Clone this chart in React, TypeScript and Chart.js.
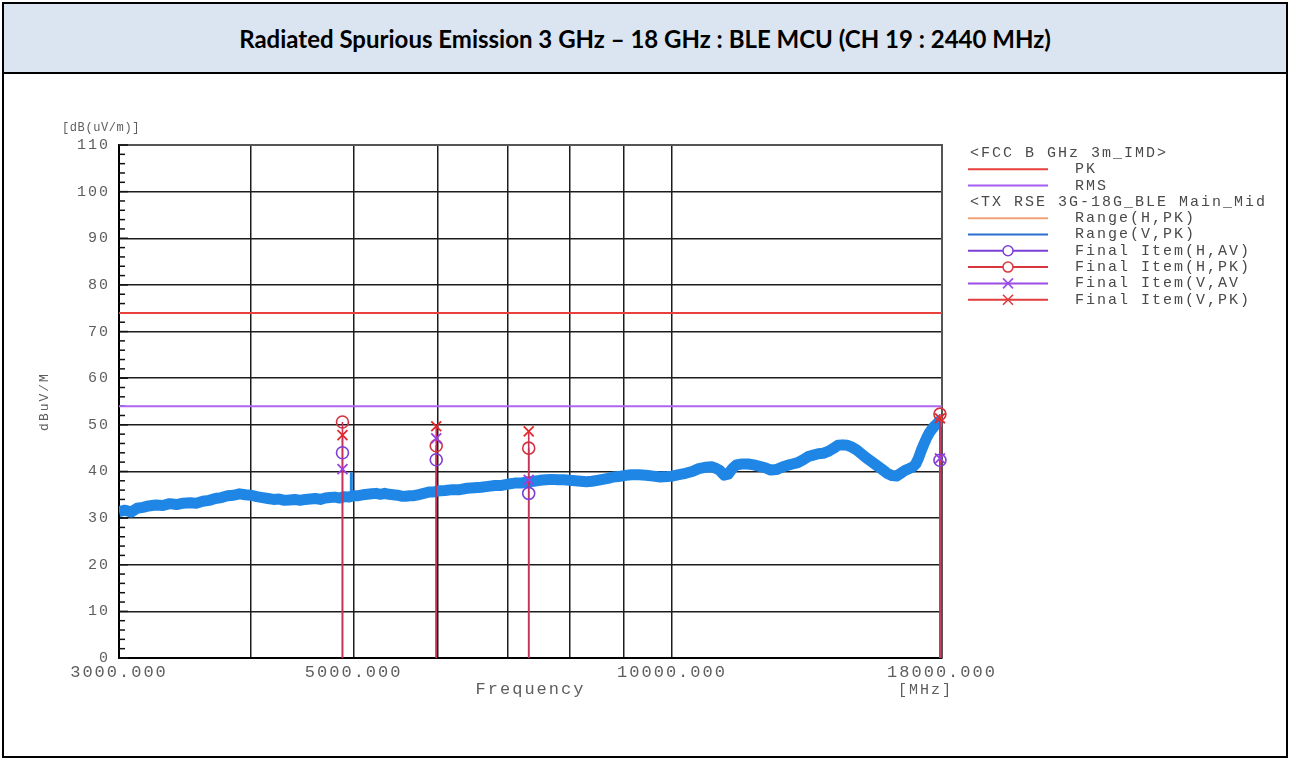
import React, { useEffect, useRef } from "react";
import { Chart, registerables } from "chart.js";
Chart.register(...registerables);

const TITLE = "Radiated Spurious Emission 3 GHz \u2013 18 GHz : BLE MCU (CH 19 : 2440 MHz)";

const xTickValues = [3000, 4000, 5000, 6000, 7000, 8000, 9000, 10000, 18000];
const xLabeledTicks = [3000, 5000, 10000, 18000];

const limitFreq = [3000, 18000];
const pkLimit = [74, 74];
const rmsLimit = [54, 54];

const traceVFreq = [
  3000, 3040, 3080, 3120, 3160, 3200, 3250, 3300, 3350, 3400, 3450, 3500, 3550, 3600, 3650, 3700, 3750, 3800, 3850, 3900,
  3950, 4000, 4050, 4100, 4150, 4200, 4250, 4300, 4350, 4400, 4450, 4500, 4550, 4600, 4650, 4700, 4750, 4800, 4850, 4900,
  4950, 5000, 5050, 5100, 5150, 5200, 5250, 5300, 5350, 5400, 5450, 5500, 5550, 5600, 5650, 5700, 5750, 5800, 5850, 5900,
  5950, 6000, 6100, 6200, 6300, 6400, 6500, 6600, 6700, 6800, 6900, 7000, 7100, 7200, 7300, 7400, 7500, 7600, 7700, 7800,
  7900, 8000, 8100, 8200, 8300, 8400, 8500, 8600, 8700, 8800, 8900, 9000, 9150, 9300, 9450, 9600, 9750, 9900, 10000, 10150,
  10300, 10450, 10600, 10750, 10900, 11000, 11100, 11200, 11300, 11400, 11500, 11650, 11800, 11950, 12100, 12250, 12400, 12550, 12700, 12850,
  13000, 13150, 13300, 13450, 13600, 13750, 13900, 14050, 14200, 14350, 14500, 14650, 14800, 14950, 15100, 15250, 15400, 15550, 15700, 15850,
  16000, 16150, 16300, 16450, 16600, 16750, 16900, 17000, 17100, 17200, 17300, 17400, 17500, 17600, 17700, 17800, 17900, 18000,
];
const traceV = [
  31.4, 31.7, 31.3, 32.1, 32.3, 32.6, 32.8, 32.7, 33.1, 32.9, 33.2, 33.3, 33.2, 33.6, 33.8, 34.2, 34.4, 34.8, 34.9, 35.2,
  35.0, 34.9, 34.6, 34.4, 34.2, 34.0, 34.1, 33.8, 33.9, 34.0, 33.8, 34.0, 34.1, 34.2, 34.0, 34.3, 34.4, 34.5, 34.3, 34.6,
  34.5, 34.8, 34.8, 35.0, 35.1, 35.2, 35.3, 35.1, 35.3, 35.1, 35.0, 34.9, 34.7, 34.7, 34.8, 34.8, 35.0, 35.2, 35.4, 35.6,
  35.6, 35.8, 35.9, 36.1, 36.1, 36.4, 36.5, 36.6, 36.8, 37.0, 37.0, 37.3, 37.5, 37.5, 37.8, 37.9, 38.1, 38.2, 38.3, 38.2,
  38.2, 38.1, 38.0, 37.9, 37.8, 37.9, 38.1, 38.3, 38.5, 38.8, 38.9, 39.1, 39.3, 39.3, 39.2, 39.0, 38.8, 38.9, 39.0, 39.3,
  39.6, 40.0, 40.6, 40.9, 41.0, 40.7, 40.2, 39.2, 39.4, 40.6, 41.4, 41.6, 41.6, 41.4, 41.1, 40.8, 40.3, 40.4, 40.9, 41.3,
  41.6, 41.9, 42.5, 43.2, 43.5, 43.8, 43.9, 44.3, 44.9, 45.6, 45.7, 45.6, 45.2, 44.6, 43.8, 43.0, 42.3, 41.6, 40.9, 40.2,
  39.5, 39.1, 39.0, 39.6, 40.2, 40.6, 41.0, 41.6, 42.8, 44.4, 45.8, 47.1, 48.2, 49.0, 49.7, 50.2, 50.8, 51.2,
];

const spikeFreq = [4975, 4975];
const spikeV = [34.5, 39.8];

const traceHFreq = [
  3000, 3200, 3400, 3600, 3800, 4000, 4200, 4400, 4600, 4800, 5000, 5200, 5400, 5600, 5800, 6000, 6300, 6600, 6900, 7200,
  7500, 7800, 8100, 8400, 8700, 9000, 9300, 9600, 9900, 10200, 10500, 10800, 11100, 11300, 11600, 11900, 12200, 12500, 12800, 13100,
  13400, 13700, 14000, 14300, 14600, 14900, 15200, 15500, 15800, 16100, 16400, 16700, 17000, 17300, 17600, 18000,
];
const traceH = [
  32.0, 32.9, 33.4, 33.9, 35.0, 35.3, 34.5, 34.4, 34.7, 34.9, 35.5, 35.9, 35.8, 35.5, 35.8, 36.4, 36.8, 37.3, 37.6, 38.2,
  38.6, 38.8, 38.5, 38.4, 39.2, 39.6, 39.9, 39.5, 39.4, 40.1, 41.1, 41.5, 40.7, 39.7, 42.1, 42.1, 41.5, 40.9, 41.8, 42.3,
  43.6, 44.3, 44.6, 45.9, 46.2, 45.5, 44.1, 42.4, 41.1, 39.9, 40.1, 41.2, 42.5, 46.0, 49.5, 51.5,
];

const finalFreq = [4880, 5985, 7320, 17920];
const finalHAV = [44.0, 42.5, 35.3, 42.4];
const finalHPK = [50.6, 45.5, 45.0, 52.3];
const finalVAV = [40.5, 47.1, 38.2, 42.8];
const finalVPK = [47.8, 49.7, 48.6, 51.4];

const legendHeader1 = "<FCC B GHz 3m_IMD>";
const legendHeader2 = "<TX RSE 3G-18G_BLE Main_Mid";
const legendItems = [
  { header: legendHeader1 },
  { text: "PK", color: "#e8413c", marker: "" },
  { text: "RMS", color: "#a65ef0", marker: "" },
  { header: legendHeader2 },
  { text: "Range(H,PK)", color: "#f2a27a", marker: "" },
  { text: "Range(V,PK)", color: "#2a6fd0", marker: "" },
  { text: "Final Item(H,AV)", color: "#7b3fd6", marker: "circle" },
  { text: "Final Item(H,PK)", color: "#d9363e", marker: "circle" },
  { text: "Final Item(V,AV", color: "#9c4ce8", marker: "cross" },
  { text: "Final Item(V,PK)", color: "#e23b3b", marker: "cross" },
];

const MONO = "'Liberation Mono', 'DejaVu Sans Mono', monospace";
const AXIS_TEXT = "#5e5e5e";
const TRACE_BLUE = "#1f86e6";

const pairs = (xs: number[], ys: number[]) => xs.map((x, i) => ({ x, y: ys[i] }));
const stems = (xs: number[], ys: number[]) => {
  const out: any[] = [];
  xs.forEach((x, i) => {
    out.push({ x, y: 0 }, { x, y: ys[i] }, { x, y: null });
  });
  return out;
};

const decoPlugin = {
  id: "deco",
  beforeDraw(chart: any) {
    chart.ctx.letterSpacing = "2px";
  },
  beforeDatasetsDraw(chart: any) {
    const { ctx, chartArea } = chart;
    const y = chart.scales.y;
    ctx.save();
    ctx.strokeStyle = "#555";
    ctx.lineWidth = 2;
    ctx.beginPath();
    ctx.moveTo(chartArea.left, chartArea.top);
    ctx.lineTo(chartArea.right, chartArea.top);
    ctx.lineTo(chartArea.right, chartArea.bottom);
    ctx.stroke();
    ctx.strokeStyle = "#111";
    ctx.lineWidth = 1.5;
    for (let v = y.min; v <= y.max; v += 2) {
      const py = y.getPixelForValue(v);
      const len = v % 10 === 0 ? 9 : 6;
      ctx.beginPath();
      ctx.moveTo(chartArea.left, py);
      ctx.lineTo(chartArea.left + len, py);
      ctx.stroke();
    }
    ctx.restore();
  },
  afterDraw(chart: any) {
    const { ctx, chartArea } = chart;
    ctx.save();
    ctx.textBaseline = "middle";
    ctx.fillStyle = AXIS_TEXT;
    ctx.letterSpacing = "0.6px";
    ctx.font = `12px ${MONO}`;
    ctx.textAlign = "left";
    ctx.fillText("[dB(uV/m)]", chartArea.left - 57, chartArea.top - 17);
    ctx.letterSpacing = "2px";
    ctx.font = `15px ${MONO}`;
    ctx.fillText("[MHz]", chartArea.right - 44, chartArea.bottom + 32);

    const lx0 = chartArea.right + 26;
    const lx1 = chartArea.right + 106;
    const tx = chartArea.right + 133;
    let ry = chartArea.top + 8;
    const step = 16.3;
    ctx.font = `15px ${MONO}`;
    legendItems.forEach((it: any) => {
      if (it.header) {
        ctx.fillStyle = "#4a4a4a";
        ctx.fillText(it.header, lx0 + 2, ry);
      } else {
        ctx.strokeStyle = it.color;
        ctx.lineWidth = 2;
        ctx.beginPath();
        ctx.moveTo(lx0, ry);
        ctx.lineTo(lx1, ry);
        ctx.stroke();
        const cx = (lx0 + lx1) / 2;
        if (it.marker === "circle") {
          ctx.beginPath();
          ctx.fillStyle = "#fff";
          ctx.arc(cx, ry, 5, 0, Math.PI * 2);
          ctx.fill();
          ctx.lineWidth = 1.5;
          ctx.stroke();
        } else if (it.marker === "cross") {
          ctx.lineWidth = 1.6;
          ctx.beginPath();
          ctx.moveTo(cx - 5, ry - 5);
          ctx.lineTo(cx + 5, ry + 5);
          ctx.moveTo(cx + 5, ry - 5);
          ctx.lineTo(cx - 5, ry + 5);
          ctx.stroke();
        }
        ctx.fillStyle = "#4a4a4a";
        ctx.fillText(it.text, tx, ry);
      }
      ry += step;
    });
    ctx.restore();
    ctx.letterSpacing = "0px";
  },
};

function ChartBox() {
  const ref = useRef<HTMLCanvasElement | null>(null);
  useEffect(() => {
    if (!ref.current) return;
    const chart = new Chart(ref.current, {
      type: "line",
      data: {
        datasets: [
          {
            label: "Final Item(V,PK)",
            data: pairs(finalFreq, finalVPK),
            showLine: false,
            pointStyle: "crossRot",
            pointRadius: 7,
            pointBorderWidth: 1.8,
            borderColor: "#e42a2a",
            backgroundColor: "#e42a2a",
            order: 0,
            clip: false,
          } as any,
          {
            label: "Final Item(V,AV)",
            data: pairs(finalFreq, finalVAV),
            showLine: false,
            pointStyle: "crossRot",
            pointRadius: 7,
            pointBorderWidth: 1.8,
            borderColor: "#9b3fe0",
            backgroundColor: "#9b3fe0",
            order: 0,
            clip: false,
          },
          {
            label: "Final Item(H,PK)",
            data: pairs(finalFreq, finalHPK),
            showLine: false,
            pointStyle: "circle",
            pointRadius: 6,
            pointBorderWidth: 1.6,
            borderColor: "#d2333f",
            backgroundColor: "rgba(0,0,0,0)",
            order: 0,
            clip: false,
          },
          {
            label: "Final Item(H,AV)",
            data: pairs(finalFreq, finalHAV),
            showLine: false,
            pointStyle: "circle",
            pointRadius: 6,
            pointBorderWidth: 1.6,
            borderColor: "#7b3fd6",
            backgroundColor: "rgba(0,0,0,0)",
            order: 0,
            clip: false,
          },
          {
            label: "stem H,PK",
            data: stems(finalFreq, finalHPK),
            borderColor: "#c8325a",
            borderWidth: 1.6,
            pointRadius: 0,
            spanGaps: false,
            order: 1,
            clip: false,
          },
          {
            label: "stem V,PK",
            data: stems(finalFreq, finalVPK),
            borderColor: "#c8325a",
            borderWidth: 1.6,
            pointRadius: 0,
            spanGaps: false,
            order: 1,
            clip: false,
          },
          {
            label: "PK",
            data: pairs(limitFreq, pkLimit),
            borderColor: "#e8413c",
            borderWidth: 2,
            pointRadius: 0,
            order: 2,
          },
          {
            label: "RMS",
            data: pairs(limitFreq, rmsLimit),
            borderColor: "#b066f2",
            borderWidth: 2,
            pointRadius: 0,
            order: 2,
          },
          {
            label: "Range(V,PK) spike",
            data: pairs(spikeFreq, spikeV),
            borderColor: TRACE_BLUE,
            borderWidth: 3,
            pointRadius: 0,
            order: 3,
          },
          {
            label: "Range(V,PK)",
            data: pairs(traceVFreq, traceV),
            borderColor: TRACE_BLUE,
            borderWidth: 11,
            borderJoinStyle: "round",
            borderCapStyle: "butt",
            pointRadius: 0,
            tension: 0,
            order: 3,
          },
          {
            label: "Range(H,PK)",
            data: pairs(traceHFreq, traceH),
            borderColor: "#f4a57c",
            borderWidth: 2,
            pointRadius: 0,
            order: 4,
          },
        ],
      },
      options: {
        animation: false,
        responsive: false,
        layout: { padding: { left: 24, top: 71, right: 344, bottom: 50 } },
        plugins: { legend: { display: false }, tooltip: { enabled: false } },
        scales: {
          x: {
            type: "logarithmic",
            min: 3000,
            max: 18000,
            afterBuildTicks: (scale: any) => {
              scale.ticks = xTickValues.map((v) => ({ value: v }));
            },
            afterFit: (scale: any) => {
              scale.height = 48;
            },
            ticks: {
              autoSkip: false,
              maxRotation: 0,
              padding: 4,
              color: AXIS_TEXT,
              font: { family: MONO, size: 17 },
              callback: (v: any) => (xLabeledTicks.includes(Number(v)) ? Number(v).toFixed(3) : ""),
            },
            grid: { color: "#1c1c1c", lineWidth: 1.5, drawTicks: false },
            border: { color: "#000", width: 2 },
            title: {
              display: true,
              text: "Frequency",
              color: AXIS_TEXT,
              font: { family: MONO, size: 17 },
              padding: { top: 0, bottom: 6 },
            },
          },
          y: {
            type: "linear",
            min: 0,
            max: 110,
            afterFit: (scale: any) => {
              scale.width = 91;
            },
            ticks: {
              stepSize: 10,
              padding: 9,
              color: AXIS_TEXT,
              font: { family: MONO, size: 15 },
            },
            grid: { color: "#1c1c1c", lineWidth: 1.5, drawTicks: false },
            border: { color: "#000", width: 2 },
            title: {
              display: true,
              text: "dBuV/M",
              color: AXIS_TEXT,
              font: { family: MONO, size: 13 },
              padding: { top: 9, bottom: 0 },
            },
          },
        },
      },
      plugins: [decoPlugin],
    });
    return () => chart.destroy();
  }, []);
  return <canvas ref={ref} width={1282} height={682} style={{ width: 1282, height: 682, display: "block" }} />;
}

export default function App() {
  return (
    <div style={{ position: "absolute", left: 0, top: 0, width: 1290, height: 760, background: "#fff" }}>
      <div
        style={{
          position: "absolute",
          left: 2,
          top: 2,
          width: 1286,
          height: 756,
          border: "2px solid #000",
          boxSizing: "border-box",
          overflow: "hidden",
        }}
      >
        <div
          style={{
            height: 70,
            background: "#dbe5f1",
            borderBottom: "2px solid #000",
            boxSizing: "border-box",
            display: "flex",
            alignItems: "center",
            justifyContent: "center",
            fontFamily: "Lato, 'Open Sans', sans-serif",
            fontWeight: 700,
            fontSize: 24,
            color: "#000",
          }}
        >
          {TITLE}
        </div>
        <ChartBox />
      </div>
    </div>
  );
}
